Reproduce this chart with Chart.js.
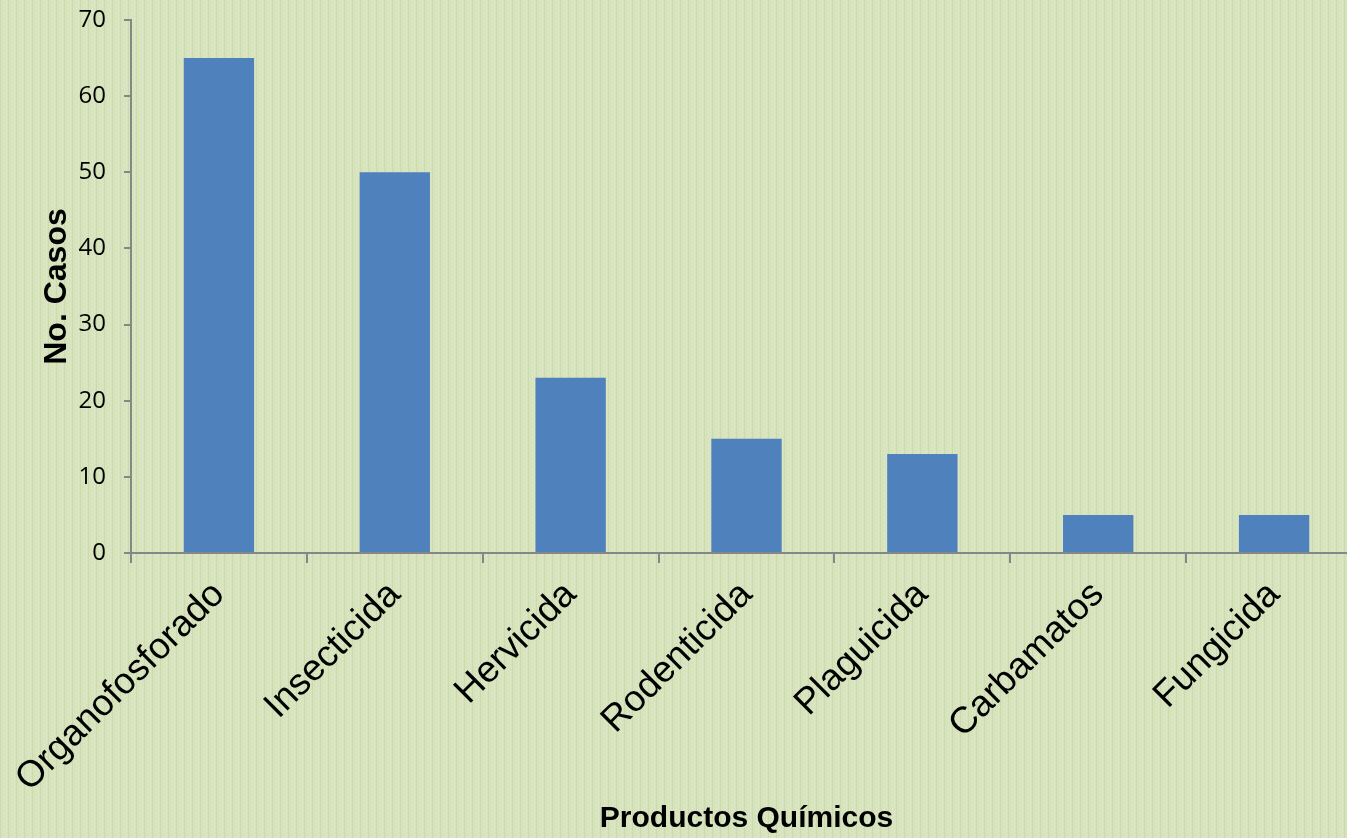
<!DOCTYPE html>
<html>
<head>
<meta charset="utf-8">
<script src="https://cdn.jsdelivr.net/npm/chart.js@4"></script>
<style>
  html, body { margin: 0; padding: 0; overflow: hidden; background: #d7e4bd; }
  #wrap { width: 1362px; height: 838px; }
</style>
</head>
<body>
<div id="wrap"><canvas id="myChart"></canvas></div>
<script>
const categories = [
    "Organofosforado",
    "Insecticida",
    "Hervicida",
    "Rodenticida",
    "Plaguicida",
    "Carbamatos",
    "Fungicida",
];
const casos = [65, 50, 23, 15, 13, 5, 5];
const yTicks = [0, 10, 20, 30, 40, 50, 60, 70];

// textured green background, like the office "paper" fill
function makePattern() {
    const p = document.createElement("canvas");
    p.width = 8;
    p.height = 4;
    const g = p.getContext("2d");
    g.fillStyle = "#d6e3bc";
    g.fillRect(0, 0, 8, 4);
    g.fillStyle = "#cbdbad";
    g.fillRect(0, 0, 1, 4);
    g.fillStyle = "#dfe9c9";
    g.fillRect(4, 0, 1, 2);
    g.fillRect(6, 2, 1, 2);
    return g.createPattern(p, "repeat");
}

const bgPlugin = {
    id: "bg",
    beforeDraw(chart) {
        const c = chart.ctx;
        c.save();
        c.fillStyle = makePattern();
        c.fillRect(0, 0, chart.width, chart.height);
        c.restore();
    },
};

const ctx = document.getElementById("myChart");

new Chart(ctx, {
    type: "bar",
    data: {
        labels: categories,
        datasets: [
            {
                label: "No. Casos",
                data: casos,
                backgroundColor: "#4f81bd",
                borderWidth: 0,
                categoryPercentage: 1,
                barPercentage: 0.4,
            },
        ],
    },
    plugins: [bgPlugin],
    options: {
        responsive: true,
        maintainAspectRatio: false,
        animation: false,
        layout: { padding: { top: 20, left: 38, right: 0, bottom: 0 } },
        plugins: {
            legend: { display: false },
            tooltip: { enabled: false },
        },
        scales: {
            x: {
                offset: true,
                afterFit(axis) {
                    axis.height = 285;
                    axis.paddingLeft = 0;
                    axis.paddingRight = 0;
                    axis.paddingTop = 0;
                    axis.paddingBottom = 0;
                },
                grid: {
                    offset: true,
                    drawOnChartArea: false,
                    drawTicks: true,
                    tickLength: 10,
                    color: "#868686",
                    lineWidth: 2,
                },
                border: { color: "#868686", width: 2 },
                ticks: {
                    color: "#000",
                    font: { family: "Liberation Sans, Arial", size: 37 },
                    minRotation: 45,
                    maxRotation: 45,
                    padding: 10,
                    autoSkip: false,
                },
                title: {
                    display: true,
                    text: "Productos Químicos",
                    color: "#000",
                    font: { family: "Liberation Sans, Arial", size: 30, weight: "bold" },
                    padding: { top: 0, bottom: 1 },
                },
            },
            y: {
                min: 0,
                max: 70,
                afterBuildTicks(axis) {
                    axis.ticks = yTicks.map((v) => ({ value: v }));
                },
                afterFit(axis) {
                    axis.width = 93;
                    axis.paddingTop = 0;
                    axis.paddingBottom = 0;
                },
                grid: {
                    drawOnChartArea: false,
                    drawTicks: true,
                    tickLength: 7,
                    color: "#868686",
                    lineWidth: 2,
                },
                border: { color: "#868686", width: 2 },
                ticks: {
                    color: "#000",
                    font: { family: "Open Sans", size: 24 },
                    padding: 18,
                },
                title: {
                    display: true,
                    text: "No. Casos",
                    color: "#000",
                    font: { family: "Liberation Sans, Arial", size: 32, weight: "bold" },
                    padding: { top: 0, bottom: 0 },
                },
            },
        },
    },
});
</script>
</body>
</html>
